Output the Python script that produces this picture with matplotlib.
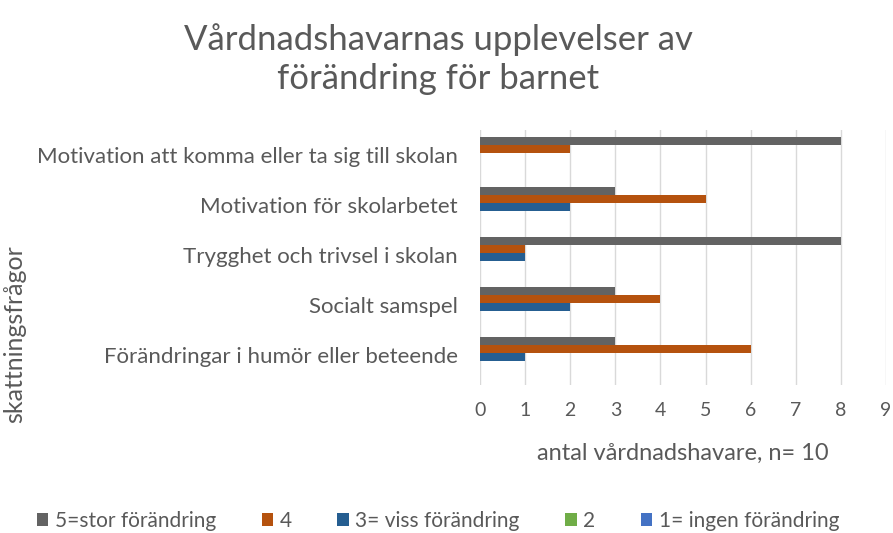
import matplotlib.pyplot as plt
import numpy as np

plt.rcParams['font.family'] = ['Lato', 'DejaVu Sans']

# Categories (bottom to top, as drawn)
questions = ['Förändringar i humör eller beteende', 'Socialt samspel',
             'Trygghet och trivsel i skolan', 'Motivation för skolarbetet',
             'Motivation att komma eller ta sig till skolan']

# Series values, same order as questions
s5 = [3, 3, 8, 3, 8]
s4 = [6, 4, 1, 5, 2]
s3 = [1, 2, 1, 2, 0]
s2 = [0, 0, 0, 0, 0]
s1 = [0, 0, 0, 0, 0]

series_names = ['5=stor förändring', '4', '3= viss förändring', '2', '1= ingen förändring']
colors = ['#636363', '#b5520e', '#255e91', '#70ad47', '#4472c4']

txt = '#595959'

fig = plt.figure(figsize=(8.93, 5.33), dpi=100)
ax = fig.add_axes([480/893, 1-385/533, (886-480)/893, 255/533])

y = np.arange(len(questions))
h = 0.16
offsets = [2*h, h, 0, -h, -2*h]
for vals, off, c, name in zip([s5, s4, s3, s2, s1], offsets, colors, series_names):
    ax.barh(y + off - 0.04, vals, height=h, color=c, label=name, zorder=3)

ax.set_xlim(0, 9)
ax.set_ylim(-0.6, 4.5)
ax.set_xticks(range(10))
ax.grid(axis='x', color='#d9d9d9', linewidth=1, zorder=0)
for sp in ax.spines.values():
    sp.set_visible(False)
ax.set_yticks(y)
ax.set_yticklabels(questions, fontsize=16, color=txt)
ax.tick_params(axis='y', length=0, pad=16)
ax.tick_params(axis='x', length=0, pad=12, labelsize=14, labelcolor=txt)

fig.text(683/893, 1-453/533, 'antal vårdnadshavare, n= 10', ha='center', va='center',
         fontsize=17, color=txt)
fig.text(15/893, 1-334/533, 'skattningsfrågor', ha='center', va='center',
         rotation=90, fontsize=18, color=txt)

fig.text(438/893, 1-59/533, 'Vårdnadshavarnas upplevelser av\nförändring för barnet',
         ha='center', va='center', fontsize=25, color=txt, linespacing=1.3)

handles, labels = ax.get_legend_handles_labels()
fig.legend(handles, labels, loc='center', bbox_to_anchor=(438/893, 1-521/533),
           ncol=5, frameon=False, fontsize=15, labelcolor=txt,
           handlelength=0.55, handleheight=0.55, handletextpad=0.3, columnspacing=2.2)

fig.savefig('out.png', dpi=100)
